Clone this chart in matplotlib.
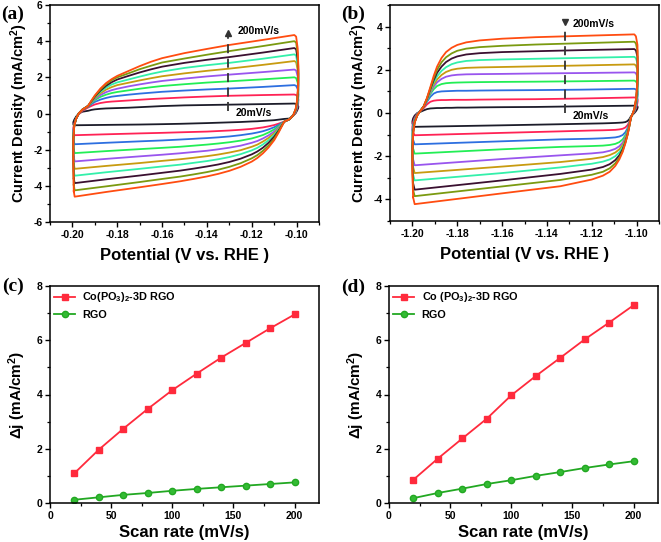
import numpy as np
import matplotlib
matplotlib.use("Agg")
import matplotlib.pyplot as plt
from matplotlib.ticker import MultipleLocator, FormatStrFormatter

plt.rcParams['font.family'] = ['Liberation Sans', 'DejaVu Sans']
plt.rcParams['font.weight'] = 'bold'
plt.rcParams['axes.unicode_minus'] = False
plt.rcParams['mathtext.fontset'] = 'custom'
plt.rcParams['mathtext.rm'] = 'Liberation Sans:bold'
plt.rcParams['mathtext.it'] = 'Liberation Sans:bold'
plt.rcParams['mathtext.bf'] = 'Liberation Sans:bold'

# scan rates, inner -> outer curve
SCAN_RATES = [20, 40, 60, 80, 100, 120, 140, 160, 180, 200]
CV_COLORS = ['#1c1c2a', '#ff2255', '#2d6fe0', '#22ee55', '#9955ee',
             '#c89b10', '#33f0aa', '#3a1030', '#7a9a10', '#ff4c10']

# ---------------- panel (a) CV loops ----------------
# left edge (rising after the -0.20 V turn)
A_E_LEFT = [-0.1994, -0.1996, -0.1996, -0.1992, -0.1984, -0.1972, -0.1955]
A_J_LEFT = [
    [-0.62, -0.56, -0.48, -0.35, -0.18, 0.00, 0.10],
    [-1.10, -0.95, -0.80, -0.55, -0.30, -0.05, 0.15],
    [-1.55, -1.25, -0.95, -0.62, -0.30, 0.00, 0.20],
    [-2.00, -1.60, -1.15, -0.68, -0.30, 0.00, 0.22],
    [-2.40, -1.95, -1.30, -0.70, -0.30, 0.00, 0.22],
    [-2.80, -2.20, -1.40, -0.70, -0.30, 0.00, 0.22],
    [-3.20, -2.40, -1.45, -0.70, -0.30, 0.00, 0.22],
    [-3.60, -2.60, -1.48, -0.70, -0.30, 0.00, 0.22],
    [-3.95, -2.70, -1.50, -0.70, -0.30, 0.00, 0.22],
    [-4.30, -2.80, -1.50, -0.70, -0.30, 0.00, 0.22],
]
# anodic sweep
A_E_UP = [-0.193, -0.1915, -0.190, -0.1875, -0.185, -0.1825, -0.180, -0.175,
          -0.170, -0.165, -0.160, -0.150, -0.140, -0.130, -0.115, -0.101]
A_J_UP = [
    [0.15, 0.20, 0.23, 0.26, 0.28, 0.29, 0.30, 0.32, 0.35, 0.38, 0.41, 0.45, 0.47, 0.49, 0.52, 0.55],
    [0.33, 0.42, 0.50, 0.58, 0.63, 0.66, 0.68, 0.72, 0.76, 0.80, 0.83, 0.89, 0.94, 0.98, 1.02, 1.05],
    [0.38, 0.52, 0.64, 0.77, 0.86, 0.93, 0.97, 1.04, 1.10, 1.15, 1.20, 1.27, 1.33, 1.38, 1.47, 1.57],
    [0.40, 0.58, 0.74, 0.92, 1.04, 1.13, 1.19, 1.28, 1.37, 1.45, 1.52, 1.62, 1.71, 1.78, 1.89, 2.00],
    [0.42, 0.62, 0.80, 1.02, 1.18, 1.29, 1.37, 1.50, 1.61, 1.71, 1.80, 1.93, 2.05, 2.15, 2.29, 2.43],
    [0.42, 0.64, 0.85, 1.12, 1.32, 1.46, 1.57, 1.70, 1.83, 1.95, 2.06, 2.22, 2.36, 2.48, 2.69, 2.90],
    [0.42, 0.66, 0.89, 1.20, 1.43, 1.60, 1.72, 1.88, 2.04, 2.19, 2.32, 2.52, 2.67, 2.80, 3.03, 3.27],
    [0.42, 0.68, 0.93, 1.27, 1.53, 1.73, 1.88, 2.08, 2.27, 2.44, 2.59, 2.80, 2.97, 3.12, 3.37, 3.62],
    [0.42, 0.70, 0.97, 1.33, 1.62, 1.84, 2.00, 2.22, 2.45, 2.64, 2.82, 3.04, 3.25, 3.45, 3.73, 4.00],
    [0.42, 0.72, 1.00, 1.38, 1.68, 1.90, 2.08, 2.35, 2.62, 2.86, 3.06, 3.34, 3.57, 3.79, 4.07, 4.34],
]
# right edge (falling after the -0.10 V turn)
A_E_RIGHT = [-0.1002, -0.0995, -0.0992, -0.0993, -0.0997, -0.1004, -0.1015, -0.1032]
A_J_RIGHT = [
    [0.52, 0.46, 0.38, 0.30, 0.18, 0.02, -0.12, -0.28],
    [1.02, 0.92, 0.75, 0.55, 0.30, 0.05, -0.12, -0.32],
    [1.53, 1.35, 1.05, 0.75, 0.40, 0.10, -0.10, -0.32],
    [1.96, 1.70, 1.30, 0.90, 0.48, 0.12, -0.10, -0.32],
    [2.38, 2.05, 1.55, 1.05, 0.55, 0.15, -0.10, -0.32],
    [2.84, 2.40, 1.80, 1.18, 0.60, 0.18, -0.10, -0.32],
    [3.20, 2.70, 2.00, 1.30, 0.65, 0.20, -0.10, -0.32],
    [3.55, 3.00, 2.20, 1.40, 0.70, 0.22, -0.10, -0.32],
    [3.92, 3.30, 2.40, 1.50, 0.75, 0.25, -0.10, -0.32],
    [4.25, 3.60, 2.60, 1.60, 0.80, 0.25, -0.10, -0.32],
]
# cathodic sweep
A_E_DN = [-0.1055, -0.108, -0.110, -0.1125, -0.115, -0.1175, -0.120, -0.125, -0.130,
          -0.135, -0.140, -0.146, -0.152, -0.160, -0.170, -0.185, -0.199]
A_J_DN = [
    [-0.30, -0.34, -0.37, -0.39, -0.41, -0.43, -0.44, -0.47, -0.49, -0.51, -0.53, -0.55, -0.57, -0.59, -0.61, -0.63, -0.65],
    [-0.45, -0.56, -0.64, -0.71, -0.77, -0.81, -0.85, -0.90, -0.94, -0.97, -1.00, -1.02, -1.04, -1.07, -1.10, -1.15, -1.20],
    [-0.45, -0.63, -0.76, -0.88, -0.98, -1.05, -1.11, -1.20, -1.27, -1.32, -1.36, -1.40, -1.44, -1.49, -1.54, -1.62, -1.70],
    [-0.45, -0.70, -0.88, -1.05, -1.19, -1.29, -1.38, -1.50, -1.59, -1.66, -1.72, -1.78, -1.84, -1.90, -1.97, -2.08, -2.19],
    [-0.45, -0.77, -1.00, -1.21, -1.38, -1.52, -1.62, -1.78, -1.89, -1.98, -2.06, -2.13, -2.20, -2.28, -2.37, -2.51, -2.65],
    [-0.45, -0.83, -1.10, -1.35, -1.55, -1.72, -1.84, -2.03, -2.16, -2.27, -2.36, -2.45, -2.53, -2.62, -2.74, -2.90, -3.06],
    [-0.45, -0.88, -1.19, -1.48, -1.71, -1.90, -2.04, -2.25, -2.41, -2.53, -2.63, -2.73, -2.83, -2.93, -3.06, -3.25, -3.44],
    [-0.45, -0.94, -1.29, -1.62, -1.89, -2.10, -2.26, -2.50, -2.68, -2.82, -2.93, -3.05, -3.16, -3.28, -3.43, -3.64, -3.85],
    [-0.45, -1.00, -1.40, -1.77, -2.06, -2.30, -2.48, -2.75, -2.95, -3.11, -3.24, -3.37, -3.49, -3.62, -3.79, -4.03, -4.25],
    [-0.45, -1.05, -1.48, -1.88, -2.20, -2.46, -2.66, -2.95, -3.17, -3.34, -3.48, -3.62, -3.75, -3.90, -4.08, -4.34, -4.60],
]

# ---------------- panel (b) CV loops ----------------
B_E_LEFT = [-1.1997, -1.2000, -1.2000, -1.1997, -1.1990, -1.1978, -1.1963]
B_J_LEFT = [
    [-0.55, -0.48, -0.38, -0.25, -0.12, 0.00, 0.06],
    [-0.90, -0.78, -0.62, -0.42, -0.22, -0.02, 0.10],
    [-1.25, -1.05, -0.80, -0.55, -0.28, -0.04, 0.12],
    [-1.65, -1.35, -1.00, -0.65, -0.32, -0.06, 0.12],
    [-2.15, -1.70, -1.20, -0.72, -0.35, -0.08, 0.12],
    [-2.50, -1.95, -1.35, -0.80, -0.38, -0.10, 0.12],
    [-2.85, -2.15, -1.45, -0.85, -0.40, -0.10, 0.12],
    [-3.25, -2.40, -1.60, -0.90, -0.42, -0.10, 0.12],
    [-3.55, -2.60, -1.70, -0.95, -0.43, -0.10, 0.12],
    [-3.90, -2.80, -1.80, -1.00, -0.45, -0.10, 0.12],
]
B_E_UP = [-1.1950, -1.1935, -1.1920, -1.1905, -1.1890, -1.1870, -1.1850, -1.1825,
          -1.1800, -1.1760, -1.1700, -1.1600, -1.1450, -1.1250, -1.1010]
B_J_UP = [
    [0.12, 0.18, 0.21, 0.22, 0.23, 0.23, 0.24, 0.24, 0.25, 0.25, 0.26, 0.27, 0.28, 0.31, 0.34],
    [0.22, 0.40, 0.52, 0.57, 0.59, 0.60, 0.60, 0.61, 0.61, 0.61, 0.62, 0.63, 0.64, 0.67, 0.72],
    [0.28, 0.52, 0.75, 0.90, 0.97, 1.00, 1.01, 1.02, 1.03, 1.03, 1.04, 1.05, 1.06, 1.08, 1.12],
    [0.30, 0.57, 0.88, 1.10, 1.25, 1.34, 1.38, 1.40, 1.41, 1.42, 1.43, 1.44, 1.45, 1.47, 1.50],
    [0.30, 0.60, 0.94, 1.22, 1.42, 1.58, 1.68, 1.74, 1.77, 1.79, 1.80, 1.81, 1.83, 1.85, 1.88],
    [0.30, 0.62, 1.00, 1.32, 1.55, 1.76, 1.90, 2.00, 2.05, 2.09, 2.11, 2.13, 2.16, 2.20, 2.25],
    [0.30, 0.64, 1.05, 1.42, 1.70, 1.95, 2.12, 2.26, 2.34, 2.41, 2.45, 2.48, 2.51, 2.55, 2.60],
    [0.30, 0.66, 1.10, 1.52, 1.86, 2.15, 2.36, 2.52, 2.62, 2.71, 2.77, 2.82, 2.86, 2.91, 2.96],
    [0.30, 0.68, 1.15, 1.62, 2.00, 2.35, 2.58, 2.76, 2.88, 2.98, 3.05, 3.11, 3.17, 3.23, 3.30],
    [0.30, 0.70, 1.20, 1.72, 2.15, 2.55, 2.82, 3.02, 3.15, 3.27, 3.36, 3.44, 3.51, 3.57, 3.64],
]
B_E_RIGHT = [-1.1003, -1.0996, -1.0995, -1.0997, -1.1002, -1.1010, -1.1018]
B_J_RIGHT = [
    [0.33, 0.31, 0.26, 0.19, 0.10, 0.00, -0.08],
    [0.70, 0.65, 0.56, 0.42, 0.24, 0.05, -0.06],
    [1.09, 1.01, 0.86, 0.62, 0.34, 0.08, -0.05],
    [1.46, 1.35, 1.12, 0.78, 0.42, 0.11, -0.05],
    [1.84, 1.68, 1.36, 0.92, 0.48, 0.13, -0.05],
    [2.20, 2.00, 1.58, 1.04, 0.54, 0.15, -0.05],
    [2.54, 2.30, 1.78, 1.14, 0.58, 0.16, -0.05],
    [2.90, 2.60, 1.98, 1.24, 0.62, 0.18, -0.05],
    [3.22, 2.88, 2.15, 1.32, 0.66, 0.19, -0.05],
    [3.55, 3.15, 2.30, 1.40, 0.70, 0.20, -0.05],
]
B_E_DN = [-1.1025, -1.1032, -1.1040, -1.1050, -1.1062, -1.1077, -1.1095,
          -1.1120, -1.1150, -1.1200, -1.1340, -1.1600, -1.1990]
B_J_DN = [
    [-0.15, -0.28, -0.37, -0.42, -0.44, -0.45, -0.46, -0.47, -0.48, -0.49, -0.52, -0.57, -0.64],
    [-0.20, -0.40, -0.56, -0.67, -0.73, -0.76, -0.78, -0.79, -0.80, -0.81, -0.85, -0.92, -1.03],
    [-0.20, -0.46, -0.70, -0.89, -1.02, -1.09, -1.13, -1.15, -1.17, -1.19, -1.22, -1.31, -1.45],
    [-0.20, -0.50, -0.78, -1.03, -1.22, -1.35, -1.43, -1.48, -1.51, -1.53, -1.57, -1.68, -1.88],
    [-0.20, -0.52, -0.84, -1.13, -1.37, -1.54, -1.66, -1.75, -1.82, -1.87, -1.96, -2.13, -2.42],
    [-0.20, -0.54, -0.89, -1.21, -1.48, -1.68, -1.83, -1.95, -2.04, -2.12, -2.27, -2.48, -2.78],
    [-0.20, -0.56, -0.93, -1.28, -1.58, -1.82, -2.00, -2.15, -2.25, -2.35, -2.52, -2.78, -3.12],
    [-0.20, -0.58, -0.97, -1.34, -1.68, -1.96, -2.18, -2.37, -2.50, -2.62, -2.82, -3.12, -3.55],
    [-0.20, -0.60, -1.00, -1.38, -1.75, -2.07, -2.33, -2.56, -2.72, -2.86, -3.10, -3.40, -3.85],
    [-0.20, -0.60, -1.00, -1.40, -1.80, -2.15, -2.45, -2.72, -2.90, -3.08, -3.39, -3.72, -4.22],
]

# ---------------- panels (c), (d) ----------------
RATE = [20, 40, 60, 80, 100, 120, 140, 160, 180, 200]
C_COPO = [1.10, 1.97, 2.74, 3.47, 4.16, 4.77, 5.36, 5.90, 6.44, 6.95]
C_RGO = [0.12, 0.21, 0.30, 0.37, 0.45, 0.52, 0.58, 0.64, 0.70, 0.76]
D_COPO = [0.86, 1.64, 2.38, 3.11, 3.97, 4.68, 5.35, 6.03, 6.65, 7.29]
D_RGO = [0.18, 0.37, 0.53, 0.70, 0.84, 1.00, 1.14, 1.29, 1.42, 1.54]

W, H = 661, 542
fig = plt.figure(figsize=(W / 100, H / 100), dpi=100)


def box(l, t, r, b):
    return fig.add_axes([l / W, 1 - b / H, (r - l) / W, (b - t) / H])


def style(ax):
    for s in ax.spines.values():
        s.set_linewidth(1.1)
    ax.tick_params(which='major', direction='out', length=3.5, width=1.0,
                   labelsize=7.5, pad=2)
    ax.tick_params(which='minor', direction='out', length=2, width=0.9)
    for lab in ax.get_xticklabels() + ax.get_yticklabels():
        lab.set_fontweight('bold')


def draw_cv(ax, eL, jL, eU, jU, eR, jR, eD, jD):
    for i in range(len(SCAN_RATES)):
        e = eL + eU + eR + eD + [eL[0]]
        j = jL[i] + jU[i] + jR[i] + jD[i] + [jL[i][0]]
        ax.plot(e, j, color=CV_COLORS[i], lw=1.3, solid_joinstyle='round')


def panel_label(txt, x, y):
    fig.text(x / W, 1 - y / H, txt, family=['Liberation Serif', 'DejaVu Serif'],
             fontsize=14, fontweight='bold', ha='center', va='center')


def cv_axes(ax, xlo, xhi, ylo, yhi):
    ax.set_xlim(xlo, xhi)
    ax.set_ylim(ylo, yhi)
    ax.xaxis.set_major_locator(MultipleLocator(0.02))
    ax.xaxis.set_minor_locator(MultipleLocator(0.01))
    ax.xaxis.set_major_formatter(FormatStrFormatter('%.2f'))
    ax.yaxis.set_major_locator(MultipleLocator(2))
    ax.yaxis.set_minor_locator(MultipleLocator(1))
    ax.set_xlabel('Potential (V vs. RHE )', fontsize=12, fontweight='bold', labelpad=6)
    ax.set_ylabel('Current Density (mA/cm$^{2}$)', fontsize=10.5, fontweight='bold', labelpad=2)
    style(ax)


# (a)
ax1 = box(50, 5, 319, 222)
draw_cv(ax1, A_E_LEFT, A_J_LEFT, A_E_UP, A_J_UP, A_E_RIGHT, A_J_RIGHT, A_E_DN, A_J_DN)
cv_axes(ax1, -0.21, -0.09, -6, 6)
ax1.plot([-0.1308, -0.1308], [0.15, 4.3], color='#333333', lw=1.3, ls=(0, (5, 3)))
ax1.plot([-0.1308], [4.45], marker='^', ms=4, color='#333333')
ax1.text(-0.1265, 4.55, '200mV/s', fontsize=7.5, fontweight='bold', va='center')
ax1.text(-0.1270, 0.0, '20mV/s', fontsize=7.5, fontweight='bold', va='center')
panel_label('(a)', 13, 14)

# (b)
ax2 = box(390, 5, 659, 221)
draw_cv(ax2, B_E_LEFT, B_J_LEFT, B_E_UP, B_J_UP, B_E_RIGHT, B_J_RIGHT, B_E_DN, B_J_DN)
cv_axes(ax2, -1.21, -1.09, -5, 5)
ax2.plot([-1.1318, -1.1318], [0.0, 3.95], color='#333333', lw=1.3, ls=(0, (5, 3)))
ax2.plot([-1.1318], [4.2], marker='v', ms=4, color='#333333')
ax2.text(-1.1285, 4.1, '200mV/s', fontsize=7.5, fontweight='bold', va='center')
ax2.text(-1.1285, -0.15, '20mV/s', fontsize=7.5, fontweight='bold', va='center')
panel_label('(b)', 353, 14)


def rate_panel(ax, copo, rgo, copo_label):
    ax.plot(RATE, copo, color='#ff2a3c', lw=1.3, marker='s', ms=4.5, label=copo_label)
    ax.plot(RATE, rgo, color='#22a822', lw=1.3, marker='o', ms=4.5,
            markerfacecolor='#33bb33', label='RGO')
    ax.set_xlim(0, 220)
    ax.set_ylim(0, 8)
    ax.xaxis.set_major_locator(MultipleLocator(50))
    ax.xaxis.set_minor_locator(MultipleLocator(25))
    ax.yaxis.set_major_locator(MultipleLocator(2))
    ax.yaxis.set_minor_locator(MultipleLocator(1))
    ax.set_xlabel('Scan rate (mV/s)', fontsize=12, fontweight='bold', labelpad=3)
    ax.set_ylabel('Δj (mA/cm$^{2}$)', fontsize=11, fontweight='bold', labelpad=6)
    leg = ax.legend(loc='upper left', frameon=False, fontsize=7.8, handlelength=1.9,
                    borderaxespad=0.0, handletextpad=0.7, labelspacing=0.5)
    for t in leg.get_texts():
        t.set_fontweight('bold')
    style(ax)


ax3 = box(50, 286, 319, 503)
rate_panel(ax3, C_COPO, C_RGO, 'Co(PO$_{3}$)$_{2}$-3D RGO')
panel_label('(c)', 13, 286)

ax4 = box(389, 286, 658, 503)
rate_panel(ax4, D_COPO, D_RGO, 'Co (PO$_{3}$)$_{2}$-3D RGO')
panel_label('(d)', 353, 287)

fig.savefig('out.png', dpi=100)
